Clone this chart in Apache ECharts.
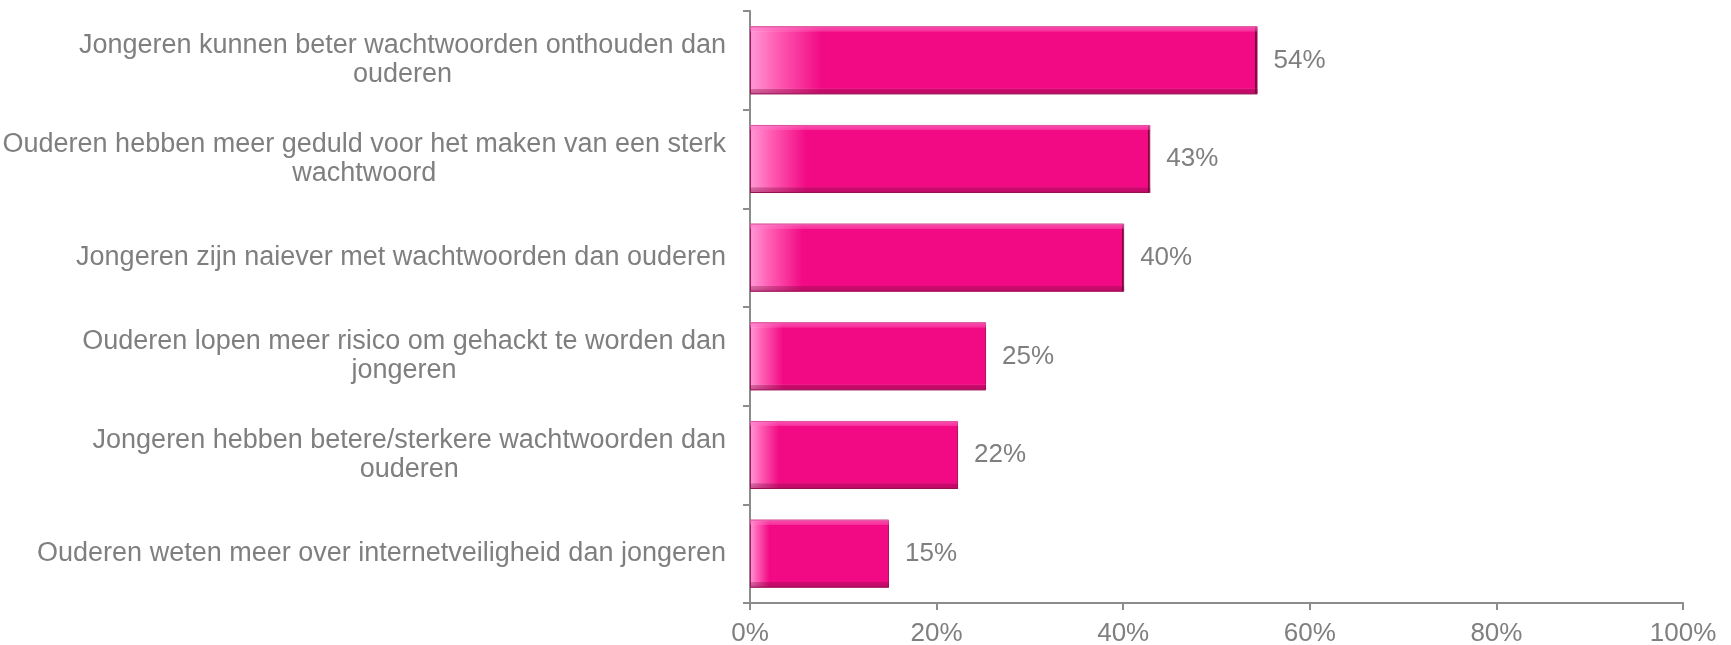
<!DOCTYPE html>
<html>
  <head>
    <meta charset="UTF-8">
    <title>wachtwoorden</title>
    <script src="https://cdn.jsdelivr.net/npm/echarts@6/dist/echarts.min.js"></script>
    <style>
      html, body { margin: 0; padding: 0; background: #fff; }
    </style>
  </head>
  <body>
    <div id="myChart" style="width: 1731px;height:645px;"></div>
    <script type="text/javascript">
      // stellingen (van boven naar onder)
      var categories = [
        ['Jongeren kunnen beter wachtwoorden onthouden dan', 'ouderen'],
        ['Ouderen hebben meer geduld voor het maken van een sterk', 'wachtwoord'],
        ['Jongeren zijn naiever met wachtwoorden dan ouderen'],
        ['Ouderen lopen meer risico om gehackt te worden dan', 'jongeren'],
        ['Jongeren hebben betere/sterkere wachtwoorden dan', 'ouderen'],
        ['Ouderen weten meer over internetveiligheid dan jongeren']
      ];
      // percentage eens
      var values = [54.4, 42.9, 40.1, 25.3, 22.3, 14.9];
      var xTicks = [0, 20, 40, 60, 80, 100];

      var grey = '#7f7f7f';
      var font = 'Arial, "Liberation Sans", sans-serif';

      var myChart = echarts.init(document.getElementById('myChart'));

      var option = {
        animation: false,
        grid: { left: 750, right: 48, top: 11, bottom: 42, outerBoundsMode: 'none' },
        xAxis: {
          type: 'value',
          min: xTicks[0],
          max: xTicks[xTicks.length - 1],
          interval: 20,
          axisLine: { show: true, lineStyle: { color: '#8c8c8c', width: 2 } },
          axisTick: { show: true, length: 7, lineStyle: { color: '#8c8c8c', width: 2 } },
          splitLine: { show: false },
          axisLabel: {
            formatter: '{value}%',
            color: grey, fontFamily: font, fontSize: 26, margin: 18
          }
        },
        yAxis: {
          type: 'category',
          inverse: true,
          data: categories.map(function (c) {
            return c.map(function (l) { return '{c|' + l + '}'; }).join('\n');
          }),
          axisLine: { show: true, lineStyle: { color: '#8c8c8c', width: 2 } },
          axisTick: { show: true, length: 7, lineStyle: { color: '#8c8c8c', width: 2 } },
          axisLabel: {
            margin: 24,
            color: grey,
            fontFamily: font,
            fontSize: 27,
            lineHeight: 29,
            rich: { c: { align: 'center', color: grey, fontFamily: font, fontSize: 27, lineHeight: 29 } }
          }
        },
        series: [
          {
            // hoofdbalk met lichte linkerkant
            type: 'bar',
            data: values,
            barCategoryGap: '31%',
            itemStyle: {
              color: {
                type: 'linear', x: 0, y: 0, x2: 1, y2: 0,
                colorStops: [
                  { offset: 0, color: '#ff9ad6' },
                  { offset: 0.05, color: '#ff5fb4' },
                  { offset: 0.14, color: '#f20a85' },
                  { offset: 0.994, color: '#f20a85' },
                  { offset: 0.995, color: '#6e0638' },
                  { offset: 1, color: '#6e0638' }
                ]
              },
              borderColor: '#b0125f',
              borderWidth: 1
            },
            label: {
              show: true,
              position: 'right',
              distance: 16,
              color: grey,
              fontFamily: font,
              fontSize: 26,
              formatter: function (p) { return Math.round(p.value) + '%'; }
            }
          },
          {
            // afschuining boven/onder
            type: 'bar',
            data: values,
            barGap: '-100%',
            silent: true,
            itemStyle: {
              color: {
                type: 'linear', x: 0, y: 0, x2: 0, y2: 1,
                colorStops: [
                  { offset: 0, color: 'rgba(255,130,205,0.6)' },
                  { offset: 0.07, color: 'rgba(255,120,200,0.35)' },
                  { offset: 0.08, color: 'rgba(255,255,255,0)' },
                  { offset: 0.91, color: 'rgba(255,255,255,0)' },
                  { offset: 0.92, color: 'rgba(120,10,60,0.3)' },
                  { offset: 1, color: 'rgba(120,10,60,0.45)' }
                ]
              }
            }
          }
        ]
      };

      myChart.setOption(option);
    </script>
  </body>
</html>
